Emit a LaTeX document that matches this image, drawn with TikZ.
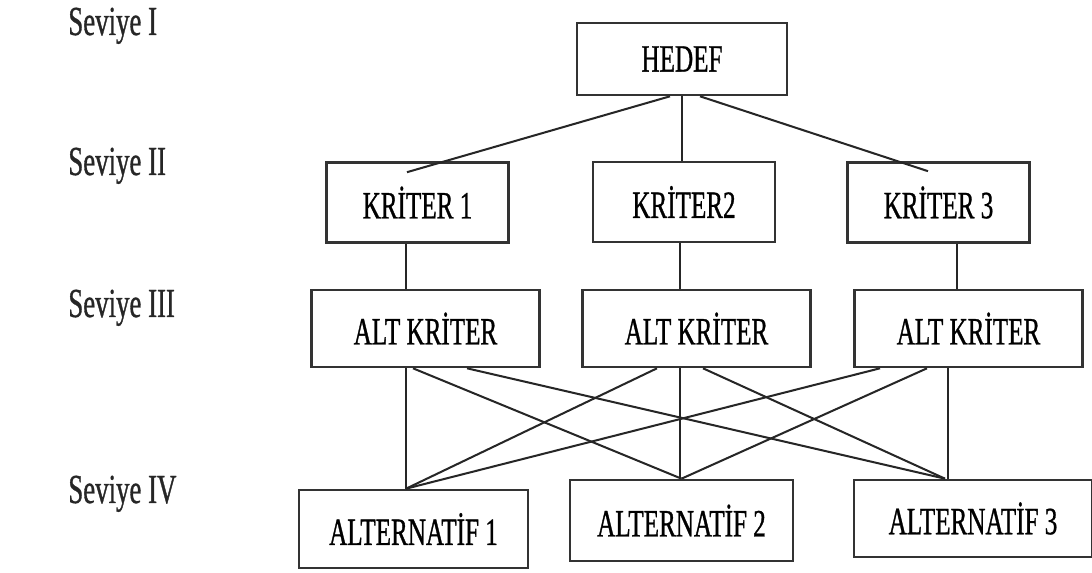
\documentclass[tikz,border=0pt]{standalone}
\usepackage{fontspec}
\setmainfont[FakeStretch=0.65,FakeBold=0.8]{Liberation Serif}
\usepackage{tikz}

\begin{document}
\begin{tikzpicture}[x=0.02cm,y=-0.02cm]

\tikzstyle{hedefbox}=[rectangle,draw=black!80,line width=1.5pt,font=\fontsize{22}{26}\selectfont, minimum width=4.2cm, minimum height=1.44cm]
\tikzstyle{kriterbox}=[rectangle,draw=black!80,line width=1.5pt,font=\fontsize{22}{26}\selectfont, minimum width=3.64cm, minimum height=1.6cm]
\tikzstyle{altbox}=[rectangle,draw=black!80,line width=1.5pt,font=\fontsize{22}{26}\selectfont, minimum width=4.56cm, minimum height=1.54cm]
\tikzstyle{seviye}=[anchor=base west,inner sep=0pt,text=black!85,font=\fontsize{23.5}{28}\selectfont]
\tikzstyle{ln}=[draw=black!85,line width=1.15pt]
\tikzstyle{vln}=[draw=black!85,line width=0.85pt]

\useasboundingbox (0,0) rectangle (1092,573);

\node[seviye] (lev1) at (68,35) {Seviye I};
\node[seviye] (lev2) at (68,175) {Seviye II};
\node[seviye] (lev3) at (68,317) {Seviye III};
\node[seviye] (lev4) at (68,503) {Seviye IV};

\node[hedefbox] (hedef) at (682,59) {HEDEF};

\node[kriterbox] (kriter1) at (417.5,202.5) {KRİTER 1};
\node[kriterbox] (kriter2) at (684,202) {KRİTER2};
\node[kriterbox] (kriter3) at (938.5,202.5) {KRİTER 3};

\node[altbox] (alt1) at (425.5,328.5) {ALT KRİTER};
\node[altbox] (alt2) at (696.5,328.5) {ALT KRİTER};
\node[altbox] (alt3) at (968.5,328.5) {ALT KRİTER};

\node[altbox, minimum width=4.58cm, minimum height=1.56cm] (alternatif1) at (413.5,529) {ALTERNATİF 1};
\node[altbox, minimum width=4.46cm, minimum height=1.62cm] (alternatif2) at (681.5,520.5) {ALTERNATİF 2};
\node[altbox, minimum width=4.76cm, minimum height=1.54cm] (alternatif3) at (973,518.5) {ALTERNATİF 3};

% hedef -> kriterler
\draw[ln] ([xshift=-0.24cm]hedef.south) -- ([xshift=-0.21cm,yshift=-0.22cm]kriter1.north);
\draw[vln] (hedef.south) -- (hedef.south |- kriter2.north);
\draw[ln] ([xshift=0.36cm]hedef.south) -- ([xshift=-0.21cm,yshift=-0.2cm]kriter3.north);

% kriter -> alt kriter
\draw[vln] ([xshift=-0.23cm]kriter1.south) -- ([xshift=-0.23cm]kriter1.south |- alt1.north);
\draw[vln] ([xshift=-0.08cm]kriter2.south) -- ([xshift=-0.08cm]kriter2.south |- alt2.north);
\draw[vln] ([xshift=0.37cm]kriter3.south) -- ([xshift=0.37cm]kriter3.south |- alt3.north);

% alt kriter -> alternatifler
\draw[vln] ([xshift=-0.39cm]alt1.south) -- ([xshift=-0.39cm]alt1.south |- alternatif1.north);
\draw[ln] ([xshift=-0.25cm]alt1.south) -- (alternatif2.north);
\draw[ln] ([xshift=0.83cm]alt1.south) -- ([xshift=-0.56cm]alternatif3.north);

\draw[vln] ([xshift=-0.33cm]alt2.south) -- ([xshift=-0.33cm]alt2.south |- alternatif2.north);
\draw[ln] ([xshift=-0.79cm]alt2.south) -- ([xshift=-0.15cm]alternatif1.north);
\draw[ln] ([xshift=0.13cm]alt2.south) -- ([xshift=-0.56cm]alternatif3.north);

\draw[vln] ([xshift=-0.41cm]alt3.south) -- ([xshift=-0.41cm]alt3.south |- alternatif3.north);
\draw[ln] ([xshift=-1.77cm]alt3.south) -- ([xshift=-0.15cm]alternatif1.north);
\draw[ln] ([xshift=-0.83cm]alt3.south) -- (alternatif2.north);
\end{tikzpicture}
\end{document}
